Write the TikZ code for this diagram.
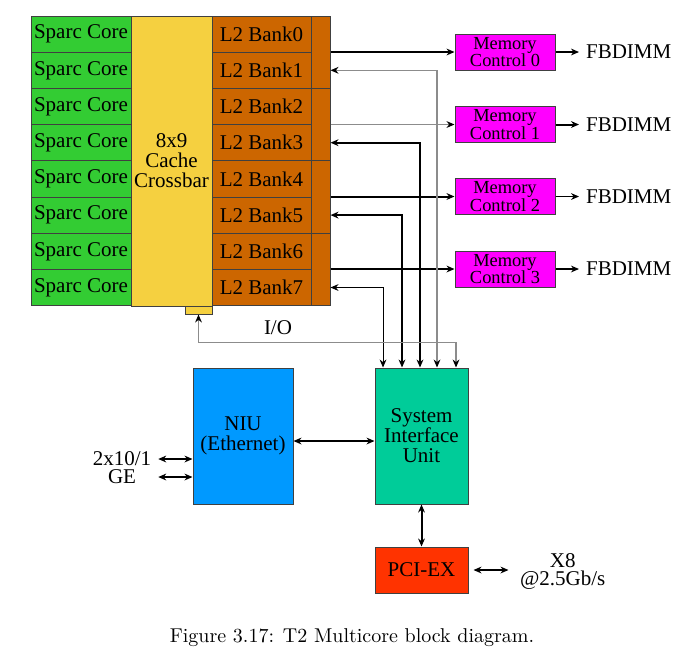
\documentclass[tikz,border=0pt]{standalone}
\usepackage{fontspec}
\newfontfamily\diagfont{Liberation Serif}
\usetikzlibrary{arrows.meta}
\definecolor{corecol}{RGB}{51,204,51}
\definecolor{xbarcol}{RGB}{245,208,64}
\definecolor{bankcol}{RGB}{204,102,0}
\definecolor{mccol}{RGB}{255,0,255}
\definecolor{niucol}{RGB}{0,153,255}
\definecolor{siucol}{RGB}{0,204,153}
\definecolor{pcicol}{RGB}{255,51,0}
\definecolor{linkgray}{RGB}{140,140,140}
\tikzset{>={Stealth[length=4pt,width=3.4pt]}}
\tikzset{
  blk/.style={draw=black!75, line width=0.5pt, inner sep=0pt, align=center,
    font=\diagfont\fontsize{10.5}{10}\selectfont},
  core/.style={blk, fill=corecol, minimum width=50pt, minimum height=18.1pt},
  bank/.style={blk, fill=bankcol, minimum width=49.5pt, minimum height=18.1pt},
  strip/.style={blk, fill=bankcol, minimum width=9.5pt, minimum height=36.2pt},
  xbar/.style={blk, fill=xbarcol, minimum width=40.5pt, minimum height=145pt},
  iotab/.style={blk, fill=xbarcol, minimum width=13.5pt, minimum height=4pt},
  mc/.style={blk, fill=mccol, minimum width=50pt, minimum height=18pt,
    font=\diagfont\fontsize{9.2}{8.8}\selectfont},
  niu/.style={blk, fill=niucol, minimum width=50pt, minimum height=68pt},
  siu/.style={blk, fill=siucol, minimum width=46.5pt, minimum height=68pt},
  pci/.style={blk, fill=pcicol, minimum width=46.5pt, minimum height=23pt},
  txt/.style={align=center, font=\diagfont\fontsize{10.5}{9}\selectfont},
  thickln/.style={line width=1pt},
  thinln/.style={line width=0.5pt},
  grayln/.style={line width=0.6pt, draw=linkgray, >={Stealth[length=4pt,width=3.4pt,black]}}
}
\begin{document}
\begin{tikzpicture}[x=0.5pt, y=-0.5pt]
  \useasboundingbox (0,0) rectangle (685,665);
  \foreach \i in {0,...,7} {
    \node[core] (core\i) at (81, 34.1+36.2*\i) {Sparc Core};
    \node[bank] (bank\i) at (261.5, 34.1+36.2*\i) {L2 Bank\i};
  }
  \foreach \j in {0,...,3}
    \node[strip] (strip\j) at (320.5, 52.2+72.4*\j) {};
  \node[xbar] (xbar) at (171.5, 161) {8x9\\Cache\\Crossbar};
  \node[iotab] (iotab) at (198.5, 310) {};
  \foreach \j/\y in {0/52, 1/124.5, 2/196.5, 3/269} {
    \node[mc] (mc\j) at (505, \y) {Memory\\Control \j};
    \node[txt, anchor=west] (fb\j) at (579, \y) {FBDIMM};
  }
  \node[niu] (niu) at (243, 436) {NIU\\(Ethernet)};
  \node[siu] (siu) at (421.5, 436) {System\\Interface\\Unit};
  \node[pci] (pci) at (421.5, 570) {PCI-EX};
  \node[txt] (ge) at (122, 468) {2x10/1\\GE};
  \node[txt, anchor=west] (pcilink) at (513, 571) {X8\\@2.5Gb/s};
  \node[txt] (io) at (278, 328) {I/O};
  \node[font=\fontsize{10}{12}\selectfont] (caption) at (352, 638) {Figure 3.17: T2 Multicore block diagram.};

  \foreach \j/\s in {0/thickln, 1/grayln, 2/thickln, 3/thickln}
    \draw[->, \s] (strip\j.east |- mc\j.west) -- (mc\j.west);
  \foreach \j/\s in {0/thickln, 1/thickln, 2/thinln, 3/thickln}
    \draw[->, \s] (mc\j.east) -- (fb\j.west);
  \foreach \j/\k/\dx/\s in {0/1/7.75pt/grayln, 1/3/-0.75pt/thickln, 2/5/-9.75pt/thickln, 3/7/-19.25pt/thinln}
    \draw[<->, \s] ([xshift=\dx]siu.north) |- (strip\j.east |- bank\k);
  \draw[<->, grayln] (iotab.south) -- ++(0,28) -| ([xshift=17.25pt]siu.north);
  \draw[<->, thickln] ([yshift=-2.5pt]niu.east) -- ([yshift=-2.5pt]siu.west);
  \draw[<->, thickln] (siu.south) -- (pci.north);
  \coordinate (ge1) at ([yshift=-11.5pt]niu.west);
  \coordinate (ge2) at ([yshift=-20.5pt]niu.west);
  \draw[<->, thickln] (ge1 -| ge.east) -- (ge1);
  \draw[<->, thickln] (ge2 -| ge.east) -- (ge2);
  \draw[<->, thickln] ([xshift=2.5pt]pci.east) -- ++(35,0);
\end{tikzpicture}
\end{document}
